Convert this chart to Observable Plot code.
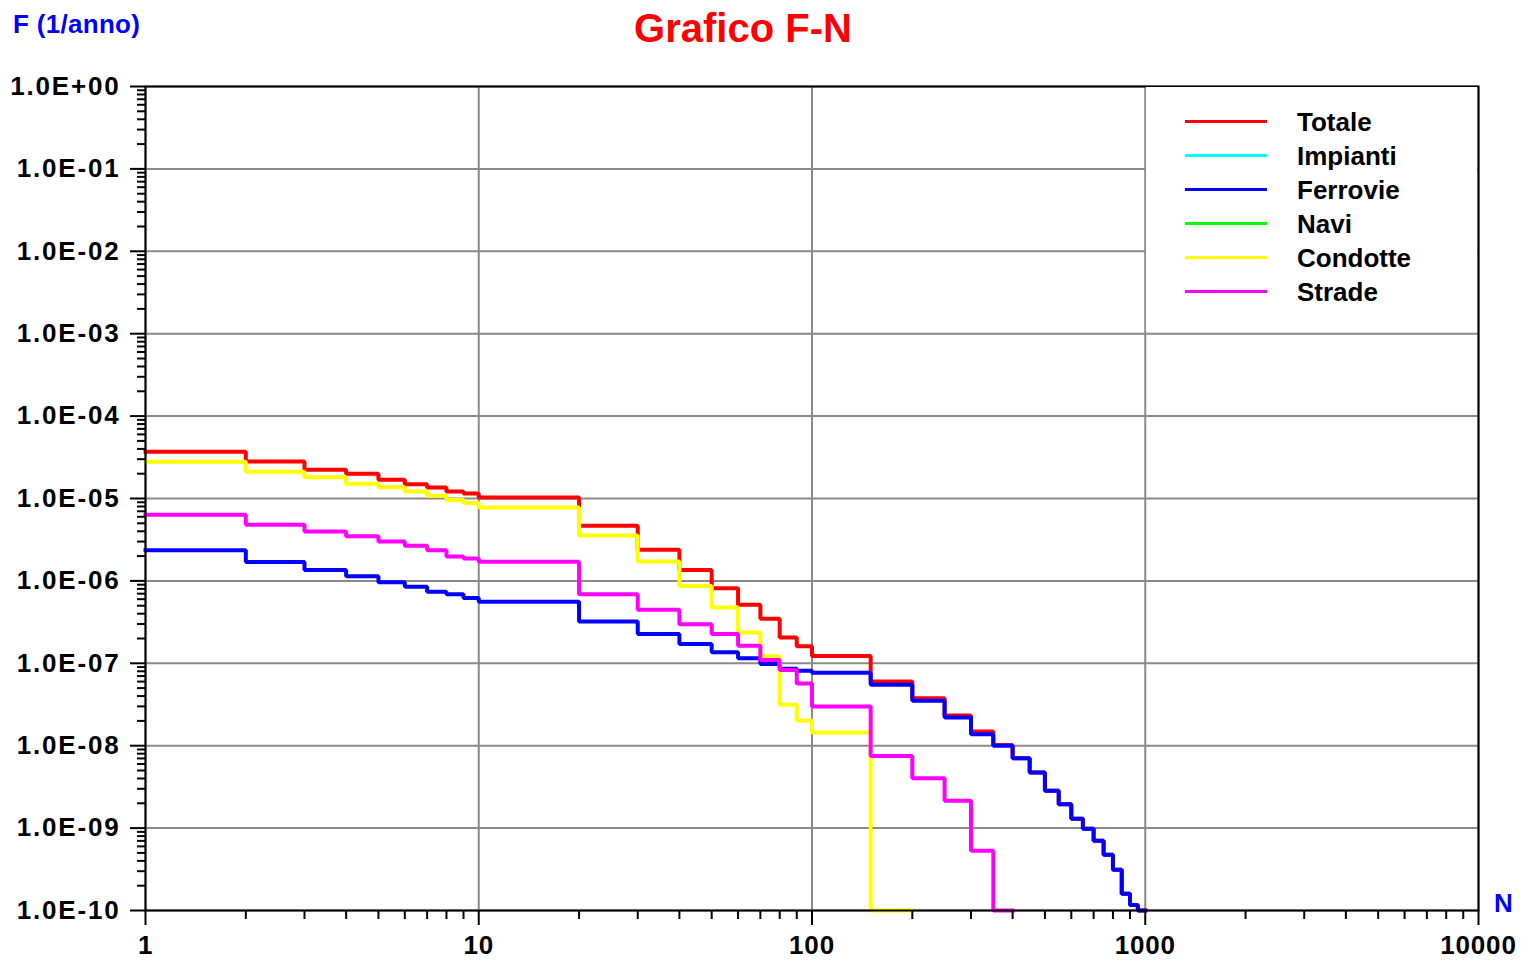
<!DOCTYPE html>
<html><head><meta charset="utf-8">
<script src="https://cdn.jsdelivr.net/npm/d3@7"></script>
<script src="https://cdn.jsdelivr.net/npm/@observablehq/plot@0.6"></script>
<style>
body{margin:0;background:#fff;}
#wrap{position:relative;width:1522px;height:960px;font-family:"Liberation Sans",Arial,sans-serif;font-weight:bold;overflow:hidden;}
#wrap svg{position:absolute;left:0;top:0;}
.abs{position:absolute;line-height:1;white-space:nowrap;}
</style></head><body><div id="wrap"></div>
<script>
// ---- data ----
const seriesNames = ["Totale", "Impianti", "Ferrovie", "Navi", "Condotte", "Strade"];
const seriesColors = ["#ff0000", "#00ffff", "#0000ff", "#00ff00", "#ffff00", "#ff00ff"];

const totaleN = [1,2,3,4,5,6,7,8,9,10,20,30,40,50,60,70,80,90,100,150,200,250,300,350,400,450,500,550,600,650,700,750,800,850,900,950,1000];
const totaleF = [3.69e-5,2.81e-5,2.23e-5,2.0e-5,1.69e-5,1.49e-5,1.36e-5,1.22e-5,1.15e-5,1.03e-5,4.66e-6,2.38e-6,1.36e-6,8.15e-7,5.13e-7,3.47e-7,2.06e-7,1.61e-7,1.23e-7,6.0e-8,3.77e-8,2.33e-8,1.49e-8,1.02e-8,7.05e-9,4.73e-9,2.84e-9,1.95e-9,1.3e-9,9.8e-10,7.0e-10,4.74e-10,3.12e-10,1.6e-10,1.17e-10,1e-10,1e-10];

const impiantiN = [];
const impiantiF = [];

const ferrovieN = [1,2,3,4,5,6,7,8,9,10,20,30,40,50,60,70,80,90,100,150,200,250,300,350,400,450,500,550,600,650,700,750,800,850,900,950,1000];
const ferrovieF = [2.36e-6,1.69e-6,1.36e-6,1.14e-6,9.6e-7,8.5e-7,7.4e-7,6.9e-7,6.2e-7,5.6e-7,3.21e-7,2.26e-7,1.71e-7,1.36e-7,1.15e-7,9.8e-8,8.6e-8,8.1e-8,7.7e-8,5.5e-8,3.51e-8,2.2e-8,1.38e-8,1.0e-8,7.05e-9,4.73e-9,2.84e-9,1.95e-9,1.3e-9,9.8e-10,7.0e-10,4.74e-10,3.12e-10,1.6e-10,1.17e-10,1e-10,1e-10];

const naviN = [];
const naviF = [];

const condotteN = [1,2,3,4,5,6,7,8,9,10,20,30,40,50,60,70,80,90,100,150,200];
const condotteF = [2.79e-5,2.11e-5,1.81e-5,1.51e-5,1.37e-5,1.22e-5,1.08e-5,9.6e-6,8.8e-6,7.8e-6,3.56e-6,1.72e-6,8.7e-7,4.75e-7,2.37e-7,1.22e-7,3.13e-8,2.02e-8,1.45e-8,1e-10,1e-10];

const stradeN = [1,2,3,4,5,6,7,8,9,10,20,30,40,50,60,70,80,90,100,150,200,250,300,350,400];
const stradeF = [6.34e-6,4.8e-6,3.98e-6,3.49e-6,3.01e-6,2.67e-6,2.36e-6,1.98e-6,1.87e-6,1.71e-6,6.9e-7,4.46e-7,2.98e-7,2.26e-7,1.63e-7,1.1e-7,8.3e-8,5.7e-8,2.99e-8,7.5e-9,4.04e-9,2.14e-9,5.3e-10,1e-10,1e-10];

const xMajor = [1, 10, 100, 1000, 10000];
const yMajor = [1, 1e-1, 1e-2, 1e-3, 1e-4, 1e-5, 1e-6, 1e-7, 1e-8, 1e-9, 1e-10];

const titleText = "Grafico F-N";
const yTitle = "F (1/anno)";
const xTitle = "N";

// ---- build ----
const seriesN = [totaleN, impiantiN, ferrovieN, naviN, condotteN, stradeN];
const seriesF = [totaleF, impiantiF, ferrovieF, naviF, condotteF, stradeF];
const rows = seriesNames.flatMap((name, i) => seriesN[i].map((n, j) => ({series: name, N: n, F: seriesF[i][j]})));

const xMinor = [];
for (let k = 0; k < 4; k++) for (let m = 2; m <= 9; m++) xMinor.push(m * Math.pow(10, k));
const yMinor = [];
for (let k = -10; k < 0; k++) for (let m = 2; m <= 9; m++) yMinor.push(m * Math.pow(10, k));

const fmtY = d => {
  const e = Math.round(Math.log10(d));
  return "1.0E" + (e >= 0 ? "+" : "-") + String(Math.abs(e)).padStart(2, "0");
};

const grid = {stroke: "#8a8a8a", strokeOpacity: 1, strokeWidth: 2};

const plot = Plot.plot({
  width: 1522,
  height: 960,
  marginLeft: 145,
  marginRight: 44,
  marginTop: 86,
  marginBottom: 50,
  style: {fontFamily: "'Liberation Sans', Arial, sans-serif", fontWeight: "bold", fontSize: "26px", letterSpacing: "0.8px", color: "black", background: "white"},
  x: {type: "log", domain: [1, 10000], label: null},
  y: {type: "log", domain: [1e-10, 1], label: null},
  color: {domain: seriesNames, range: seriesColors},
  marks: [
    Plot.gridX({ticks: xMajor, ...grid}),
    Plot.gridY({ticks: yMajor, ...grid}),
    Plot.line(rows, {x: "N", y: "F", z: "series", stroke: "series", curve: "step-after", strokeWidth: 4, strokeLinejoin: "miter", strokeLinecap: "square"}),
    Plot.frame({stroke: "black", strokeWidth: 2}),
    Plot.axisY({ticks: yMajor, tickSize: 15, tickPadding: 10, tickFormat: fmtY, strokeWidth: 2, label: null}),
    Plot.axisY({ticks: yMinor, tickSize: 8, tickFormat: () => "", strokeWidth: 2, label: null}),
    Plot.axisX({ticks: xMajor, tickSize: 15, tickPadding: 10, tickFormat: d => String(d), strokeWidth: 2, label: null}),
    Plot.axisX({ticks: xMinor, tickSize: 9, tickFormat: () => "", strokeWidth: 2, label: null})
  ]
});

plot.querySelectorAll('[aria-label="y-axis tick label"]').forEach(g => { g.style.letterSpacing = "1.8px"; });

const wrap = document.getElementById("wrap");
wrap.appendChild(plot);

function addText(txt, left, top, size, color, extra) {
  const d = document.createElement("div");
  d.className = "abs";
  d.textContent = txt;
  d.style.left = left + "px";
  d.style.top = top + "px";
  d.style.fontSize = size + "px";
  d.style.color = color;
  if (extra) Object.assign(d.style, extra);
  wrap.appendChild(d);
  return d;
}

// title
addText(titleText, 0, 8, 40, "#ff0000", {width: "1486px", textAlign: "center"});
// axis titles
addText(yTitle, 13, 11, 26, "#0000ff", {letterSpacing: "0.3px"});
addText(xTitle, 1494, 890, 26, "#0000ff");

// legend
const leg = document.createElement("div");
leg.style.cssText = "position:absolute;left:1146px;top:87px;width:331px;height:244px;background:#fff;";
wrap.appendChild(leg);
seriesNames.forEach((name, i) => {
  const y = 121.7 + 34 * i;
  const ln = document.createElement("div");
  ln.style.cssText = `position:absolute;left:${1185}px;top:${y - 1.5}px;width:82px;height:3px;background:${seriesColors[i]};`;
  wrap.appendChild(ln);
  addText(name, 1297, y - 13, 26, "black", {letterSpacing: "0px"});
});
</script></body></html>
